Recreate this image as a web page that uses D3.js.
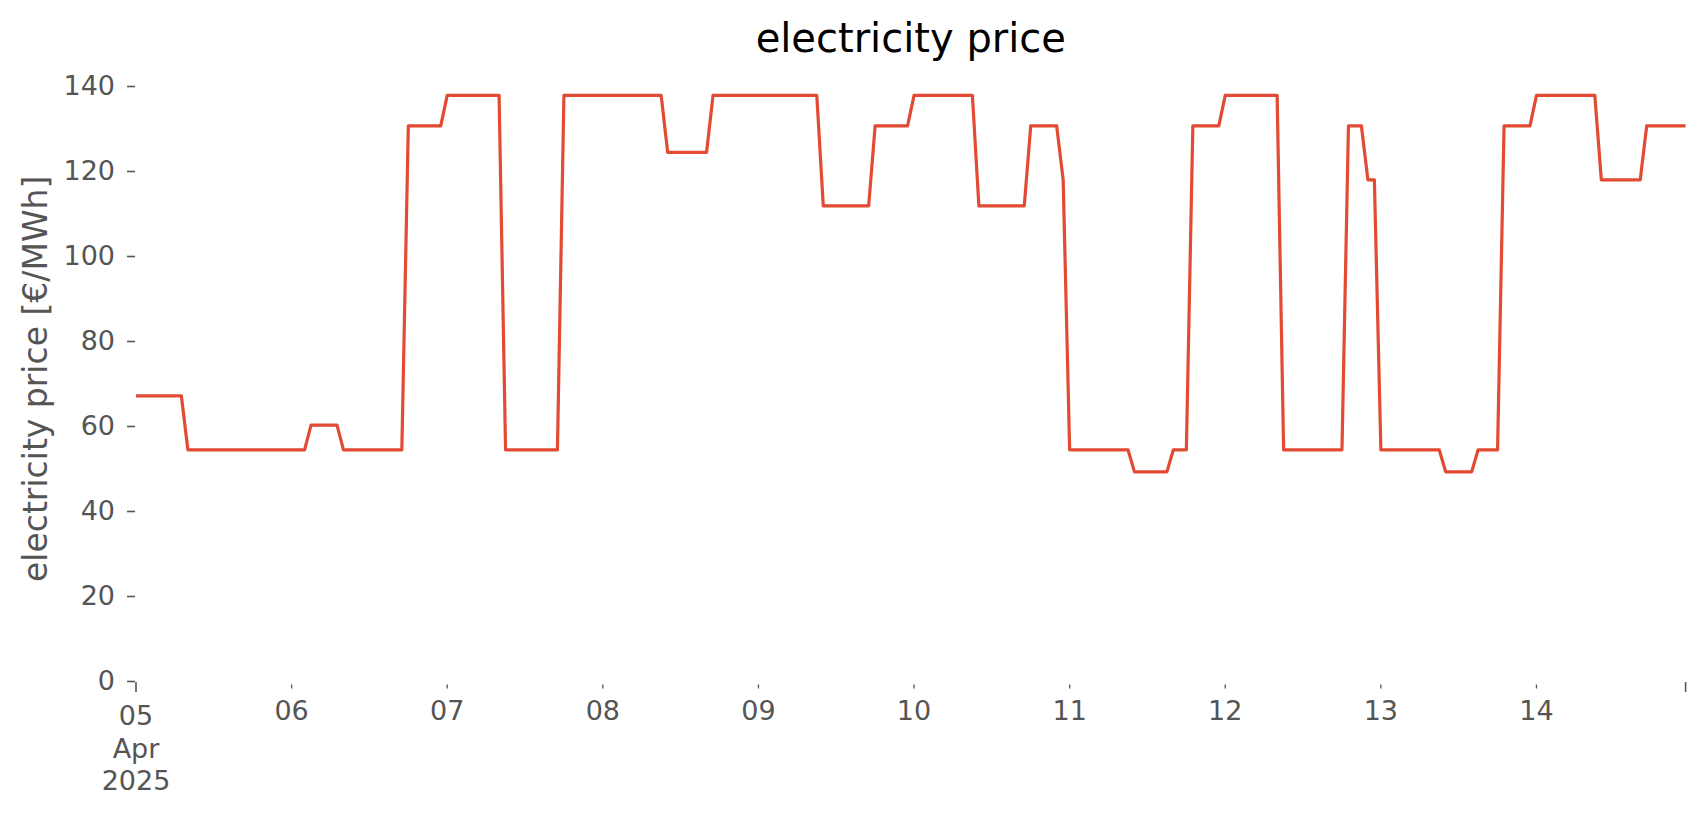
<!DOCTYPE html>
<html>
<head>
<meta charset="utf-8">
<script src="https://cdn.jsdelivr.net/npm/d3@7"></script>
<style>
  html, body { margin: 0; padding: 0; background: #ffffff; }
  svg { display: block; font-family: "DejaVu Sans", sans-serif; }
</style>
</head>
<body>
<svg id="chart" width="1706" height="815"></svg>
<script>
// ---- data (hourly, Apr 5 00:00 .. Apr 14 23:00, 2025) ----
const startTime = "2025-04-05T00:00:00Z";
const price_apr05 = [67.1,67.1,67.1,67.1,67.1,67.1,67.1,67.1,54.4,54.4,54.4,54.4,54.4,54.4,54.4,54.4,54.4,54.4,54.4,54.4,54.4,54.4,54.4,54.4];
const price_apr06 = [54.4,54.4,54.4,60.2,60.2,60.2,60.2,60.2,54.4,54.4,54.4,54.4,54.4,54.4,54.4,54.4,54.4,54.4,130.6,130.6,130.6,130.6,130.6,130.6];
const price_apr07 = [137.8,137.8,137.8,137.8,137.8,137.8,137.8,137.8,137.8,54.4,54.4,54.4,54.4,54.4,54.4,54.4,54.4,54.4,137.8,137.8,137.8,137.8,137.8,137.8];
const price_apr08 = [137.8,137.8,137.8,137.8,137.8,137.8,137.8,137.8,137.8,137.8,124.4,124.4,124.4,124.4,124.4,124.4,124.4,137.8,137.8,137.8,137.8,137.8,137.8,137.8];
const price_apr09 = [137.8,137.8,137.8,137.8,137.8,137.8,137.8,137.8,137.8,137.8,111.8,111.8,111.8,111.8,111.8,111.8,111.8,111.8,130.6,130.6,130.6,130.6,130.6,130.6];
const price_apr10 = [137.8,137.8,137.8,137.8,137.8,137.8,137.8,137.8,137.8,137.8,111.8,111.8,111.8,111.8,111.8,111.8,111.8,111.8,130.6,130.6,130.6,130.6,130.6,117.9];
const price_apr11 = [54.4,54.4,54.4,54.4,54.4,54.4,54.4,54.4,54.4,54.4,49.2,49.2,49.2,49.2,49.2,49.2,54.4,54.4,54.4,130.6,130.6,130.6,130.6,130.6];
const price_apr12 = [137.8,137.8,137.8,137.8,137.8,137.8,137.8,137.8,137.8,54.4,54.4,54.4,54.4,54.4,54.4,54.4,54.4,54.4,54.4,130.6,130.6,130.6,117.9,117.9];
const price_apr13 = [54.4,54.4,54.4,54.4,54.4,54.4,54.4,54.4,54.4,54.4,49.2,49.2,49.2,49.2,49.2,54.4,54.4,54.4,54.4,130.6,130.6,130.6,130.6,130.6];
const price_apr14 = [137.8,137.8,137.8,137.8,137.8,137.8,137.8,137.8,137.8,137.8,117.9,117.9,117.9,117.9,117.9,117.9,117.9,130.6,130.6,130.6,130.6,130.6,130.6,130.6];
const yTickValues = [0, 20, 40, 60, 80, 100, 120, 140];
const titleText = "electricity price";
const yLabelText = "electricity price [€/MWh]";

// ---- build series ----
const prices = [].concat(price_apr05, price_apr06, price_apr07, price_apr08, price_apr09,
                         price_apr10, price_apr11, price_apr12, price_apr13, price_apr14);
const t0 = new Date(startTime);
const series = prices.map((v, i) => ({ t: d3.utcHour.offset(t0, i), v }));
const tEnd = series[series.length - 1].t;

// ---- layout ----
const svg = d3.select("#chart");
const left = 136, right = 1685.6, bottom = 681;
const yMax = 142.2;
const x = d3.scaleUtc().domain([t0, tEnd]).range([left, right]);
const y = d3.scaleLinear().domain([0, yMax]).range([bottom, bottom - yMax * 4.25]);
const tickColor = "#555555";
const fs = 27;

// title
svg.append("text")
  .attr("x", (left + right) / 2).attr("y", 51.5)
  .attr("text-anchor", "middle")
  .attr("font-size", 40).attr("fill", "#000")
  .text(titleText);

// y label
svg.append("text")
  .attr("transform", `translate(47,${(y(0) + y(yMax)) / 2}) rotate(-90)`)
  .attr("text-anchor", "middle")
  .attr("font-size", 33).attr("fill", tickColor)
  .text(yLabelText);

// y axis
const yAxis = d3.axisLeft(y).tickValues(yTickValues).tickSize(8).tickPadding(12);
const gy = svg.append("g").attr("transform", `translate(135,0)`).call(yAxis);
gy.select(".domain").remove();
gy.selectAll(".tick line").attr("stroke", tickColor).attr("stroke-width", 1.6);
gy.selectAll(".tick text").attr("fill", tickColor).attr("font-size", fs)
  .attr("font-family", "DejaVu Sans, sans-serif");

// x axis: day ticks (minor) with labels
const dayTicks = d3.utcDay.range(t0, tEnd);
const gx = svg.append("g");
gx.selectAll("line.minor").data(dayTicks.slice(1)).enter().append("line")
  .attr("class", "minor")
  .attr("x1", d => x(d)).attr("x2", d => x(d))
  .attr("y1", bottom + 3.5).attr("y2", bottom + 7.5)
  .attr("stroke", tickColor).attr("stroke-width", 1.3);
// major ticks at both ends
gx.selectAll("line.major").data([t0, tEnd]).enter().append("line")
  .attr("class", "major")
  .attr("x1", d => x(d)).attr("x2", d => x(d))
  .attr("y1", bottom + 1).attr("y2", bottom + 11)
  .attr("stroke", tickColor).attr("stroke-width", 1.6);
const fmtDay = d3.utcFormat("%d");
gx.selectAll("text.day").data(dayTicks).enter().append("text")
  .attr("class", "day")
  .attr("x", d => x(d))
  .attr("y", (d, i) => i === 0 ? 724.5 : 720)
  .attr("text-anchor", "middle")
  .attr("font-size", fs).attr("fill", tickColor)
  .text(d => fmtDay(d));
const firstExtra = [d3.utcFormat("%b")(t0), d3.utcFormat("%Y")(t0)];
gx.selectAll("text.extra").data(firstExtra).enter().append("text")
  .attr("class", "extra")
  .attr("x", x(t0))
  .attr("y", (d, i) => 758 + i * 32)
  .attr("text-anchor", "middle")
  .attr("font-size", fs).attr("fill", tickColor)
  .text(d => d);

// line
const line = d3.line().x(d => x(d.t)).y(d => y(d.v));
svg.append("path")
  .datum(series)
  .attr("d", line)
  .attr("fill", "none")
  .attr("stroke", "#E24A33")
  .attr("stroke-width", 3.2)
  .attr("stroke-linejoin", "round");
</script>
</body>
</html>
